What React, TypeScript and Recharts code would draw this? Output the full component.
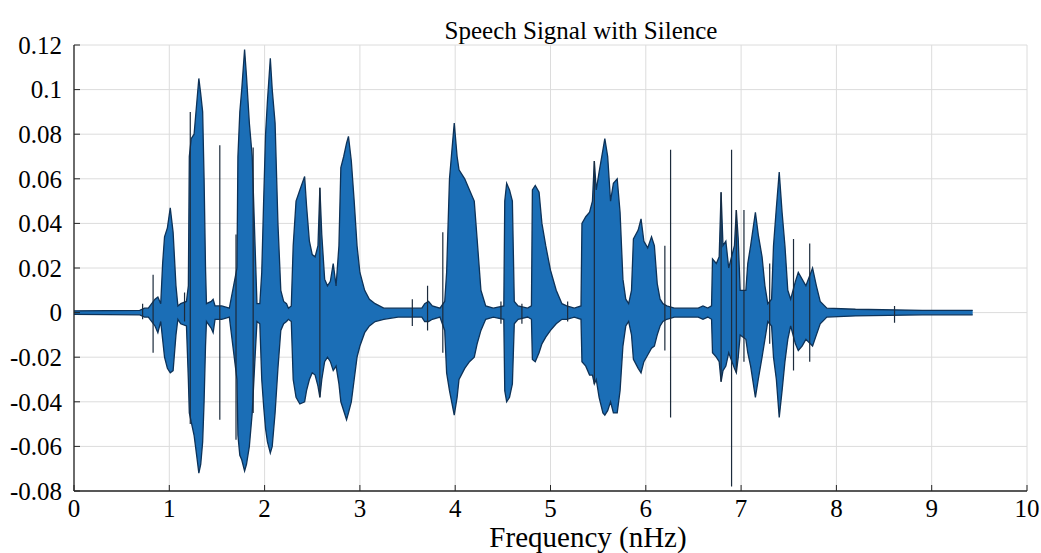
import { Area, CartesianGrid, ComposedChart, Line, XAxis, YAxis } from "recharts";

const FONT = "Liberation Serif";
const BLUE = "#1b6eb6";
const EDGE = "#0d3258";
const SPIKE = "#1c2b3c";
const FRAME = "#262626";

const xTicks = [0, 1, 2, 3, 4, 5, 6, 7, 8, 9, 10];
const yTicks = [-0.08, -0.06, -0.04, -0.02, 0, 0.02, 0.04, 0.06, 0.08, 0.1, 0.12];

// amplitude envelope (upper / lower), one line per burst
const envT = [
  0, 0.69, 0.74, 0.78, 0.85, 0.88, 0.91,
  0.93, 0.95, 0.98, 1.01, 1.04, 1.07, 1.09, 1.12, 1.18,
  1.2, 1.21, 1.23, 1.26, 1.29, 1.31, 1.33, 1.35, 1.365, 1.38, 1.39, 1.44, 1.46, 1.48, 1.55, 1.63,
  1.71, 1.72, 1.74, 1.76, 1.79, 1.81, 1.84, 1.87, 1.9, 1.92, 1.95,
  1.97, 1.99, 2.01, 2.03, 2.06, 2.08, 2.11, 2.14, 2.17, 2.2, 2.23, 2.25, 2.28,
  2.3, 2.33, 2.37, 2.42, 2.44, 2.47, 2.5, 2.53, 2.56, 2.58, 2.6, 2.63, 2.66, 2.69, 2.72, 2.75, 2.78,
  2.8, 2.83, 2.86, 2.88, 2.91, 2.94, 2.97, 3.0, 3.05, 3.1, 3.16, 3.25, 3.4, 3.65, 3.68, 3.72, 3.76, 3.84,
  3.89, 3.91, 3.94, 3.99, 4.02, 4.04, 4.1, 4.15, 4.2, 4.23, 4.27, 4.32, 4.4,
  4.51, 4.52, 4.54, 4.57, 4.6, 4.62, 4.66, 4.76,
  4.8, 4.81, 4.84, 4.88, 4.91, 4.95, 5.0, 5.06, 5.12, 5.17, 5.25,
  5.32, 5.33, 5.37, 5.41, 5.44, 5.46, 5.48, 5.51, 5.55, 5.57, 5.6, 5.63, 5.66, 5.7, 5.73, 5.76, 5.79, 5.82,
  5.85, 5.87, 5.92, 5.95, 5.98, 6.02, 6.06, 6.09, 6.12, 6.15, 6.18, 6.22, 6.3, 6.55, 6.6, 6.65,
  6.69, 6.7, 6.74, 6.77, 6.79, 6.81, 6.84, 6.87, 6.93, 6.95, 6.97, 6.99,
  7.05, 7.07, 7.1, 7.15, 7.18, 7.22, 7.25, 7.28,
  7.32, 7.34, 7.37, 7.4, 7.43, 7.46, 7.49, 7.52,
  7.57, 7.6, 7.64, 7.68, 7.75, 7.79, 7.83, 7.9, 8.2, 8.9, 9.43,
];
const envHi = [
  0.0008, 0.001, 0.002, 0.002, 0.006, 0.007, 0.004,
  0.022, 0.034, 0.038, 0.047, 0.036, 0.012, 0.003, 0.004, 0.005,
  0.012, 0.07, 0.078, 0.08, 0.095, 0.105, 0.098, 0.09, 0.06, 0.02, 0.004, 0.005, 0.006, 0.003, 0.003, 0.002,
  0.02, 0.07, 0.09, 0.1, 0.118, 0.106, 0.085, 0.07, 0.03, 0.004, 0.004,
  0.018, 0.05, 0.08, 0.095, 0.114, 0.1, 0.085, 0.04, 0.01, 0.005, 0.004, 0.002, 0.003,
  0.03, 0.05, 0.055, 0.061, 0.048, 0.032, 0.026, 0.025, 0.03, 0.056, 0.035, 0.015, 0.012, 0.014, 0.022, 0.012, 0.03,
  0.065, 0.07, 0.076, 0.079, 0.068, 0.05, 0.03, 0.018, 0.01, 0.006, 0.004, 0.002, 0.002, 0.002, 0.004, 0.005, 0.003, 0.002,
  0.005, 0.018, 0.06, 0.085, 0.07, 0.064, 0.06, 0.055, 0.05, 0.033, 0.01, 0.003, 0.002,
  0.003, 0.05, 0.058, 0.055, 0.05, 0.005, 0.003, 0.002,
  0.003, 0.055, 0.057, 0.054, 0.04, 0.03, 0.019, 0.01, 0.004, 0.003, 0.002,
  0.003, 0.04, 0.043, 0.045, 0.05, 0.068, 0.055, 0.063, 0.073, 0.078, 0.07, 0.05, 0.058, 0.06, 0.045, 0.015, 0.006, 0.004,
  0.01, 0.033, 0.037, 0.042, 0.032, 0.029, 0.034, 0.03, 0.013, 0.006, 0.004, 0.003, 0.002, 0.002, 0.003, 0.002,
  0.003, 0.024, 0.022, 0.025, 0.054, 0.03, 0.032, 0.02, 0.03, 0.046, 0.033, 0.01,
  0.01, 0.022, 0.03, 0.045, 0.035, 0.025, 0.012, 0.004,
  0.006, 0.03, 0.047, 0.063, 0.045, 0.03, 0.01, 0.006,
  0.014, 0.018, 0.015, 0.012, 0.02, 0.012, 0.005, 0.002, 0.0015, 0.001, 0.001,
];
const envLo = [
  -0.0008, -0.001, -0.002, -0.002, -0.006, -0.009, -0.004,
  -0.012, -0.02, -0.025, -0.027, -0.026, -0.01, -0.003, -0.005, -0.006,
  -0.03, -0.045, -0.049, -0.055, -0.065, -0.072, -0.068, -0.058, -0.04, -0.015, -0.004, -0.007, -0.009, -0.003, -0.003, -0.002,
  -0.03, -0.055, -0.064, -0.066, -0.071, -0.068, -0.06, -0.045, -0.02, -0.004, -0.005,
  -0.03, -0.042, -0.052, -0.058, -0.063, -0.06, -0.045, -0.025, -0.008, -0.005, -0.004, -0.003, -0.004,
  -0.03, -0.038, -0.041, -0.04, -0.035, -0.03, -0.027, -0.028, -0.033, -0.038, -0.03, -0.022, -0.02, -0.022, -0.026, -0.024, -0.032,
  -0.04, -0.044, -0.048, -0.045, -0.04, -0.03, -0.02, -0.015, -0.009, -0.006, -0.004, -0.003, -0.002, -0.002, -0.004, -0.004, -0.003, -0.002,
  -0.008, -0.027, -0.035, -0.046, -0.038, -0.03, -0.025, -0.022, -0.02, -0.014, -0.008, -0.003, -0.002,
  -0.003, -0.035, -0.04, -0.038, -0.032, -0.005, -0.003, -0.002,
  -0.003, -0.021, -0.022, -0.018, -0.014, -0.011, -0.008, -0.005, -0.003, -0.003, -0.002,
  -0.003, -0.022, -0.024, -0.028, -0.028, -0.032, -0.03, -0.038, -0.045, -0.046, -0.044, -0.04, -0.045, -0.045, -0.035, -0.015, -0.006, -0.004,
  -0.01, -0.021, -0.025, -0.027, -0.022, -0.019, -0.016, -0.015, -0.01, -0.006, -0.004, -0.003, -0.002, -0.002, -0.003, -0.002,
  -0.003, -0.018, -0.02, -0.022, -0.031, -0.026, -0.024, -0.018, -0.025, -0.027, -0.02, -0.01,
  -0.012, -0.018, -0.024, -0.038, -0.03, -0.02, -0.012, -0.004,
  -0.006, -0.02, -0.03, -0.047, -0.035, -0.022, -0.012, -0.006,
  -0.014, -0.017, -0.015, -0.012, -0.015, -0.01, -0.005, -0.002, -0.0015, -0.001, -0.001,
];

// isolated sharp clicks drawn as thin vertical strokes
const spikeT = [0.72, 0.83, 1.16, 1.22, 1.53, 1.7, 1.88, 2.58, 3.55, 3.71, 3.87, 4.48, 4.7, 5.18, 5.46, 6.2, 6.26, 6.79, 6.9, 6.95, 7.03, 7.3, 7.55, 7.72, 8.61];
const spikeHi = [0.004, 0.017, 0.009, 0.09, 0.075, 0.035, 0.074, 0.056, 0.006, 0.012, 0.036, 0.005, 0.004, 0.005, 0.068, 0.03, 0.073, 0.054, 0.073, 0.046, 0.046, 0.022, 0.033, 0.031, 0.003];
const spikeLo = [-0.003, -0.018, -0.004, -0.05, -0.048, -0.057, -0.045, -0.038, -0.006, -0.008, -0.018, -0.005, -0.005, -0.004, -0.032, -0.017, -0.047, -0.031, -0.078, -0.027, -0.022, -0.014, -0.026, -0.022, -0.0045];

const envelope = envT.map((t, i) => ({ t, hi: envHi[i], lo: envLo[i] }));
const spikes = spikeT.flatMap((t, i) => [
  { t, v: spikeHi[i] },
  { t, v: spikeLo[i] },
  { t, v: null },
]);

const tickFont = { fontFamily: FONT, fontSize: 25, fill: "#000" };

export default function App() {
  return (
    <div
      style={{
        position: "absolute",
        left: 0,
        top: 0,
        width: 1041,
        height: 553,
        background: "#fff",
        fontFamily: FONT,
      }}
    >
      <div
        style={{
          position: "absolute",
          left: 581,
          top: 30,
          transform: "translate(-50%, -50%)",
          fontSize: 25,
          lineHeight: 1,
          whiteSpace: "nowrap",
        }}
      >
        Speech Signal with Silence
      </div>
      <ComposedChart
        width={1041}
        height={553}
        data={envelope}
        margin={{ top: 45, right: 14, bottom: 32, left: 10 }}
      >
        <CartesianGrid stroke="#dcdcdc" />
        <XAxis
          dataKey="t"
          type="number"
          domain={[0, 10]}
          ticks={xTicks}
          interval={0}
          allowDataOverflow
          height={30}
          tickSize={-6}
          tickMargin={14}
          axisLine={{ stroke: FRAME, strokeWidth: 1.3 }}
          tickLine={{ stroke: FRAME }}
          tick={tickFont}
          fontFamily={FONT}
          fontSize={25}
        />
        <XAxis
          xAxisId="top"
          orientation="top"
          dataKey="t"
          type="number"
          domain={[0, 10]}
          ticks={xTicks}
          interval={0}
          allowDataOverflow
          height={0}
          tickSize={-6}
          tick={false}
          axisLine={{ stroke: FRAME, strokeWidth: 1.3 }}
          tickLine={{ stroke: FRAME }}
        />
        <YAxis
          type="number"
          domain={[-0.08, 0.12]}
          ticks={yTicks}
          interval={0}
          allowDataOverflow
          width={64}
          tickSize={-6}
          tickMargin={18}
          axisLine={{ stroke: FRAME, strokeWidth: 1.3 }}
          tickLine={{ stroke: FRAME }}
          tick={tickFont}
          fontFamily={FONT}
          fontSize={25}
        />
        <YAxis
          yAxisId="right"
          orientation="right"
          type="number"
          domain={[-0.08, 0.12]}
          ticks={yTicks}
          interval={0}
          allowDataOverflow
          width={0}
          tickSize={-6}
          tick={false}
          axisLine={{ stroke: FRAME, strokeWidth: 1.3 }}
          tickLine={{ stroke: FRAME }}
        />
        <Area
          dataKey={(d: { lo: number; hi: number }) => [d.lo, d.hi]}
          type="linear"
          fill={BLUE}
          fillOpacity={1}
          stroke={EDGE}
          strokeWidth={1.3}
          isAnimationActive={false}
        />
        <Line
          data={spikes}
          dataKey="v"
          xAxisId="top"
          yAxisId="right"
          type="linear"
          connectNulls={false}
          dot={false}
          stroke={SPIKE}
          strokeWidth={1.2}
          isAnimationActive={false}
        />
      </ComposedChart>
      <div
        style={{
          position: "absolute",
          left: 588,
          top: 537,
          transform: "translate(-50%, -50%)",
          fontSize: 29,
          lineHeight: 1,
          whiteSpace: "nowrap",
        }}
      >
        Frequency (nHz)
      </div>
    </div>
  );
}
